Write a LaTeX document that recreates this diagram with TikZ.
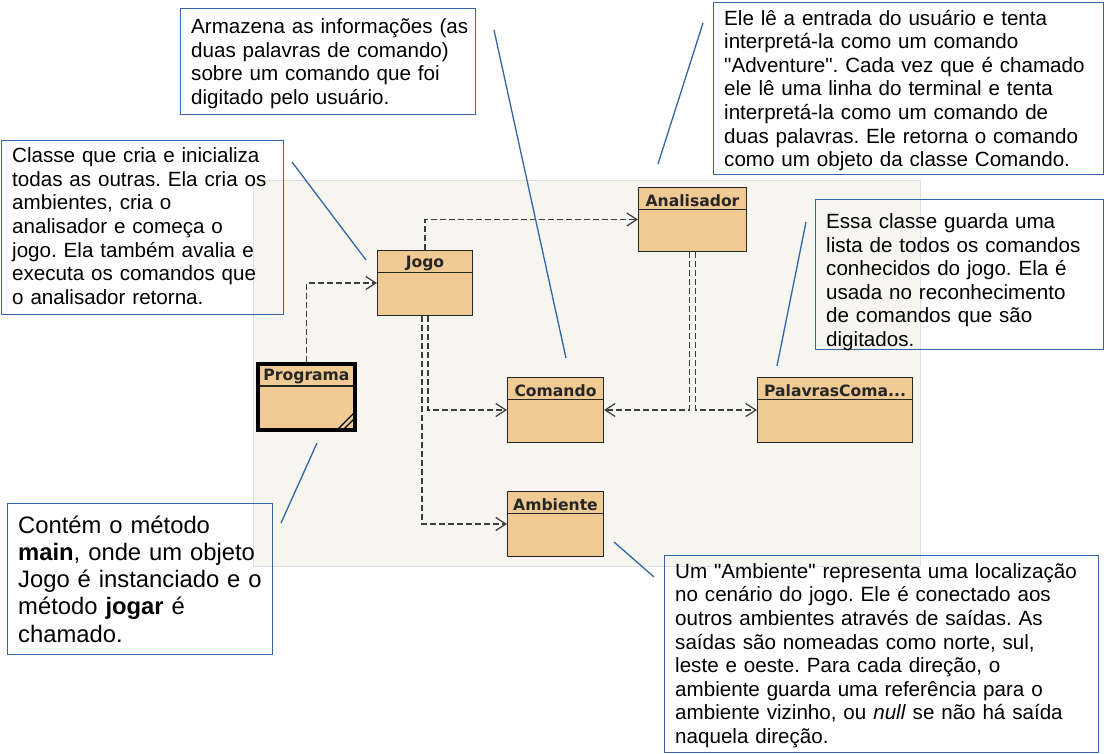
\documentclass[tikz,border=0pt]{standalone}
\usepackage{fontspec}
\setmainfont{Liberation Sans}
\newfontfamily\classefont{DejaVu Sans}
\usetikzlibrary{arrows.meta}
\frenchspacing
\definecolor{bege}{HTML}{EFCA93}
\definecolor{fundo}{HTML}{F6F5F0}
\definecolor{azul}{HTML}{3465A4}
\definecolor{traco}{HTML}{3C3C3C}
\newcommand{\linhas}[2][2.5pt]{\raisebox{-#1}[\height][\depth]{\begin{tabular}{@{}l@{}}#2\end{tabular}}}
\tikzset{classe/.style={draw=black!85,fill=bege,line width=1.2pt,inner sep=0pt,
		path picture={\draw[line width=1.2pt,draw=black!85] ([yshift=-22pt]path picture bounding box.north west) -- ([yshift=-22pt]path picture bounding box.north east);}},
	titulo/.style={anchor=center,yshift=-14pt,text=black!85,font=\classefont\bfseries\fontsize{15.6}{18}\selectfont},
	seta/.style={draw=traco,line width=1.2pt,dash pattern=on 6pt off 3pt,-{Straight Barb[length=10pt,width=13pt]}},
	nota/.style={draw=azul,line width=1.4pt,anchor=north west,inner xsep=10.5pt,inner ysep=0pt,align=left,font=\fontsize{20.6}{23.6}\selectfont},
	guia/.style={draw=azul,line width=1.3pt}}

\begin{document}
\begin{tikzpicture}[x=1pt,y=-1pt]
	\useasboundingbox (0,0) rectangle (1104,754);
	\draw[fill=fundo,draw=black!12] (253,180) rectangle (920,566);
	\node[classe,minimum width=95pt,minimum height=65pt,label={[titulo]north:Jogo}] (jogo) at (425,283) {};
	\node[classe,line width=4pt,draw=black,minimum width=97pt,minimum height=66pt,label={[titulo]north:Programa}] (programa) at (306.5,397) {};
	\node[classe,minimum width=96pt,minimum height=65pt,label={[titulo]north:Comando}] (comando) at (555.5,410) {};
	\node[classe,minimum width=108pt,minimum height=64pt,label={[titulo]north:Analisador}] (analisador) at (692.5,219.5) {};
	\node[classe,minimum width=155pt,minimum height=65pt,label={[titulo]north:PalavrasComa...}] (palavras) at (835,410) {};
	\node[classe,minimum width=96pt,minimum height=65pt,label={[titulo]north:Ambiente}] (ambiente) at (555.5,524) {};
	\draw[black,line width=1.2pt] ([shift={(-21,-1)}]programa.south east) -- ([shift={(-1,-21)}]programa.south east);
	\draw[black,line width=1.2pt] ([shift={(-15,-1)}]programa.south east) -- ([shift={(-1,-15)}]programa.south east);
	\draw[seta] (programa.north) |- (jogo.west);
	\draw[seta] (jogo.north) |- (analisador.west);
	\draw[seta] ([xshift=3pt]jogo.south) |- (comando.west);
	\draw[seta] ([xshift=-3pt]jogo.south) |- (ambiente.west);
	\draw[seta] ([xshift=-3pt]analisador.south) |- (comando.east);
	\draw[seta] ([xshift=3pt]analisador.south) |- (palavras.west);
	\node[nota,text width=274pt,minimum height=106pt] (notaComando) at (180,8) {\linhas{Armazena as informações (as\\duas palavras de comando)\\sobre um comando que foi\\digitado pelo usuário.}};
	\node[nota,text width=369pt,minimum height=172pt] (notaAnalisador) at (713,2) {\linhas{Ele lê a entrada do usuário e tenta\\interpretá-la como um comando\\\textquotedbl Adventure\textquotedbl. Cada vez que é chamado\\ele lê uma linha do terminal e tenta\\interpretá-la como um comando de\\duas palavras. Ele retorna o comando\\como um objeto da classe Comando.}};
	\node[nota,text width=261pt,minimum height=174pt] (notaJogo) at (1,140) {\linhas[1pt]{Classe que cria e inicializa\\todas as outras. Ela cria os\\ambientes, cria o\\analisador e começa o\\jogo. Ela também avalia e\\executa os comandos que\\o analisador retorna.}};
	\node[nota,text width=267pt,minimum height=150pt] (notaPalavras) at (815,199) {\linhas[8pt]{Essa classe guarda uma\\lista de todos os comandos\\conhecidos do jogo. Ela é\\usada no reconhecimento\\de comandos que são\\digitados.}};
	\node[nota,text width=244pt,minimum height=151pt,font=\fontsize{23.8}{27.2}\selectfont] (notaPrograma) at (7,503) {\linhas[3pt]{Contém o método\\\textbf{main}, onde um objeto\\Jogo é instanciado e o\\método \textbf{jogar} é\\chamado.}};
	\node[nota,text width=413pt,minimum height=197pt] (notaAmbiente) at (664,555) {\linhas[2pt]{Um \textquotedbl Ambiente\textquotedbl{} representa uma localização\\no cenário do jogo. Ele é conectado aos\\outros ambientes através de saídas. As\\saídas são nomeadas como norte, sul,\\leste e oeste. Para cada direção, o\\ambiente guarda uma referência para o\\ambiente vizinho, ou \textit{null} se não há saída\\naquela direção.}};
	\coordinate (j1) at (292,162);
	\coordinate (j2) at (366,260);
	\coordinate (c1) at (494,30);
	\coordinate (c2) at (566,358);
	\coordinate (a1) at (703,23);
	\coordinate (a2) at (658,164);
	\coordinate (p1) at (806,222);
	\coordinate (p2) at (777,366);
	\coordinate (g1) at (317,443);
	\coordinate (g2) at (281,523);
	\coordinate (m1) at (614,542);
	\coordinate (m2) at (654,577);
	\draw[guia] (j1) -- (j2);
	\draw[guia] (c1) -- (c2);
	\draw[guia] (a1) -- (a2);
	\draw[guia] (p1) -- (p2);
	\draw[guia] (g1) -- (g2);
	\draw[guia] (m1) -- (m2);
\end{tikzpicture}
\end{document}
